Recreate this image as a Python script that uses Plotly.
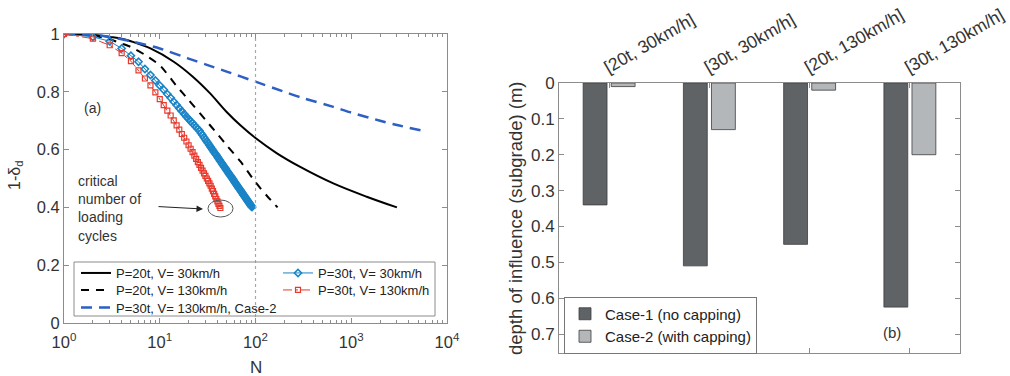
import plotly.graph_objects as go

W, H = 1010, 376
FONT = "Arial, Liberation Sans, sans-serif"

# ---------------- data: panel (a) ----------------
n_p20_v30 = [1, 2, 3, 4, 5, 8, 14, 22, 33, 50, 70, 100, 166, 290, 650, 1450, 3000]
d_p20_v30 = [1.0, 0.997, 0.99, 0.984, 0.975, 0.95, 0.904, 0.853, 0.797, 0.73, 0.683, 0.640, 0.588, 0.541, 0.483, 0.437, 0.40]

n_p20_v130 = [1, 2, 3, 4, 5, 7, 10, 15, 20, 30, 40, 50, 70, 100, 130, 170]
d_p20_v130 = [1.0, 0.995, 0.982, 0.967, 0.955, 0.928, 0.892, 0.82, 0.772, 0.703, 0.654, 0.615, 0.558, 0.487, 0.442, 0.40]

n_case2 = [1, 2, 3, 5, 10, 20, 30, 50, 100, 200, 300, 650, 1000, 2000, 3000, 6000]
d_case2 = [1.0, 0.997, 0.99, 0.975, 0.95, 0.915, 0.895, 0.87, 0.835, 0.80, 0.78, 0.748, 0.728, 0.70, 0.685, 0.663]

n_p30_v30 = list(range(1, 93))
d_p30_v30 = [1.000, 0.990, 0.975, 0.950, 0.925, 0.904, 0.879, 0.858, 0.839, 0.822,
             0.807, 0.792, 0.779, 0.766, 0.754, 0.743, 0.733, 0.723, 0.714, 0.706,
             0.698, 0.691, 0.684, 0.677, 0.671, 0.665, 0.657, 0.650, 0.642, 0.635,
             0.628, 0.622, 0.615, 0.609, 0.603, 0.597, 0.591, 0.586, 0.581, 0.575,
             0.570, 0.565, 0.560, 0.555, 0.550, 0.546, 0.541, 0.537, 0.533, 0.528,
             0.524, 0.520, 0.516, 0.512, 0.509, 0.505, 0.501, 0.498, 0.494, 0.490,
             0.487, 0.483, 0.480, 0.477, 0.473, 0.470, 0.467, 0.464, 0.461, 0.458,
             0.455, 0.452, 0.449, 0.446, 0.443, 0.441, 0.438, 0.435, 0.433, 0.430,
             0.427, 0.425, 0.422, 0.420, 0.417, 0.415, 0.413, 0.410, 0.408, 0.405,
             0.403, 0.401]

n_p30_v130 = list(range(1, 44))
d_p30_v130 = [1.000, 0.984, 0.961, 0.934, 0.906, 0.874, 0.846, 0.822, 0.798, 0.775,
              0.754, 0.735, 0.718, 0.701, 0.684, 0.669, 0.654, 0.641, 0.628, 0.615,
              0.603, 0.591, 0.579, 0.568, 0.557, 0.547, 0.537, 0.527, 0.518, 0.509,
              0.500, 0.492, 0.483, 0.475, 0.465, 0.456, 0.447, 0.438, 0.429, 0.421,
              0.412, 0.405, 0.398]

n_ref_line = 100
x_tick_vals = [1, 10, 100, 1000, 10000]
x_tick_text = ["10<sup>0</sup>", "10<sup>1</sup>", "10<sup>2</sup>", "10<sup>3</sup>", "10<sup>4</sup>"]
x_minor_vals = [m * 10 ** e for e in range(4) for m in range(2, 10)]

# ---------------- data: panel (b) ----------------
categories = ["[20t, 30km/h]", "[30t, 30km/h]", "[20t, 130km/h]", "[30t, 130km/h]"]
cat_pos = [1, 2, 3, 4]
case1_depth = [0.34, 0.51, 0.45, 0.625]
case2_depth = [0.01, 0.13, 0.02, 0.20]


def px(x):
    return x / W


def py(y):
    return 1 - y / H


fig = go.Figure()

# panel (a) traces
fig.add_trace(go.Scatter(x=n_p20_v30, y=d_p20_v30, mode="lines", name="P=20t, V= 30km/h",
                         line=dict(color="black", width=2, shape="spline", smoothing=1.0), legend="legend"))
fig.add_trace(go.Scatter(x=n_p20_v130, y=d_p20_v130, mode="lines", name="P=20t, V= 130km/h",
                         line=dict(color="black", width=2, dash="8px,7px", shape="spline", smoothing=0.6),
                         legend="legend2"))
fig.add_trace(go.Scatter(x=n_case2, y=d_case2, mode="lines", name="P=30t, V= 130km/h, Case-2",
                         line=dict(color="#2d5fc4", width=2.5, dash="11px,7px", shape="spline", smoothing=0.6),
                         legend="legend3"))
fig.add_trace(go.Scatter(x=n_p30_v30, y=d_p30_v30, mode="lines+markers", name="P=30t, V= 30km/h",
                         line=dict(color="#1a84c7", width=1),
                         marker=dict(symbol="diamond-open", size=5.5, color="#1a84c7", line=dict(width=1.6)),
                         legend="legend4"))
fig.add_trace(go.Scatter(x=n_p30_v130, y=d_p30_v130, mode="lines+markers", name="P=30t, V= 130km/h",
                         line=dict(color="#e8392c", width=1, dash="dashdot"),
                         marker=dict(symbol="square-open", size=5, color="#e8392c", line=dict(width=1.2)),
                         legend="legend5"))
# reference vertical line at N=100
fig.add_trace(go.Scatter(x=[n_ref_line, n_ref_line], y=[0, 1], mode="lines", showlegend=False,
                         line=dict(color="#a8a8a8", width=1.2, dash="dot"), hoverinfo="skip"))

# panel (b) traces
fig.add_trace(go.Bar(x=cat_pos, y=case1_depth, name="Case-1 (no capping)", xaxis="x2", yaxis="y2",
                     marker=dict(color="#5f6366", line=dict(color="#3c3c3c", width=0.8)), legend="legend6"))
fig.add_trace(go.Bar(x=cat_pos, y=case2_depth, name="Case-2 (with capping)", xaxis="x2", yaxis="y2",
                     marker=dict(color="#b4b7b9", line=dict(color="#3c3c3c", width=0.8)), legend="legend6"))

axis_common = dict(showline=True, linecolor="#8c8c8c", linewidth=1, mirror="ticks", ticks="inside",
                   tickcolor="#8c8c8c", showgrid=False, zeroline=False, automargin=False)
TICK_A = dict(family=FONT, size=16.5, color="#333333")
TICK_B = dict(family=FONT, size=17, color="#333333")
LEG_A = dict(family=FONT, size=13, color="#222")


def one_legend(x, y):
    return dict(x=px(x), y=py(y), xanchor="left", yanchor="middle", bgcolor="rgba(0,0,0,0)",
                borderwidth=0, font=LEG_A, tracegroupgap=0, itemwidth=30)


fig.update_layout(
    width=W, height=H, margin=dict(l=0, r=0, t=0, b=0),
    paper_bgcolor="white", plot_bgcolor="white",
    font=dict(family=FONT, color="#222222"),
    barmode="group", bargap=0.44, bargroupgap=0.15,
    xaxis=dict(type="log", range=[0, 4], domain=[px(64), px(447)], anchor="y",
               tickvals=x_tick_vals, ticktext=x_tick_text, ticklen=5, tickfont=TICK_A,
               ticklabelstandoff=4,
               minor=dict(tickvals=x_minor_vals, ticks="inside", ticklen=3, tickcolor="#8c8c8c"),
               **axis_common),
    yaxis=dict(range=[0, 1], domain=[py(323), py(34)], anchor="x", dtick=0.2, ticklen=5,
               tickfont=TICK_A, **axis_common),
    xaxis2=dict(range=[0.5, 4.5], domain=[px(559), px(960)], anchor="y2", side="top",
                tickvals=cat_pos, ticktext=categories, tickangle=-30, ticklen=5,
                ticklabeloverflow="allow", ticklabelshift=-5,
                tickfont=dict(family=FONT, size=17.5, color="#333333"), **axis_common),
    yaxis2=dict(range=[0.753, 0], domain=[py(353), py(83)], anchor="x2", dtick=0.1, ticklen=5,
                tickfont=TICK_B, **axis_common),
    legend=one_legend(76, 273),
    legend2=one_legend(76, 290),
    legend3=one_legend(76, 307.5),
    legend4=one_legend(278, 273),
    legend5=one_legend(278, 290),
    legend6=dict(x=px(564), y=py(325), xanchor="left", yanchor="middle", bgcolor="white",
                 bordercolor="#777777", borderwidth=1, font=dict(family=FONT, size=15, color="#222"),
                 tracegroupgap=0),
    shapes=[
        dict(type="rect", xref="paper", yref="paper", x0=px(74), x1=px(435), y0=py(316), y1=py(262),
             line=dict(color="#8c8c8c", width=1), layer="above"),
        dict(type="circle", xref="paper", yref="paper", x0=px(208), x1=px(233), y0=py(217), y1=py(200),
             line=dict(color="#555555", width=1)),
    ],
    annotations=[
        dict(text="1-δ<sub>d</sub>", xref="paper", yref="paper", x=px(15), y=py(176), textangle=-90,
             xanchor="center", yanchor="middle", showarrow=False, font=dict(family=FONT, size=16, color="#333")),
        dict(text="N", xref="paper", yref="paper", x=px(256), y=py(367), xanchor="center", yanchor="middle",
             showarrow=False, font=dict(family=FONT, size=17, color="#333")),
        dict(text="(a)", xref="paper", yref="paper", x=px(92), y=py(108), xanchor="center", yanchor="middle",
             showarrow=False, font=dict(family=FONT, size=14, color="#333")),
        dict(text="critical<br>number of<br>loading<br>cycles", xref="paper", yref="paper",
             x=px(76), y=py(208), xanchor="left", yanchor="middle", align="left", showarrow=False,
             font=dict(family=FONT, size=14, color="#333")),
        dict(text="", xref="paper", yref="paper", x=px(203), y=py(209), ax=-46, ay=-2.5,
             axref="pixel", ayref="pixel", showarrow=True, arrowhead=2, arrowsize=1.3, arrowwidth=1,
             arrowcolor="#222"),
        dict(text="depth of influence (subgrade) (m)", xref="paper", yref="paper", x=px(515), y=py(218),
             textangle=-90, xanchor="center", yanchor="middle", showarrow=False,
             font=dict(family=FONT, size=18.5, color="#333")),
        dict(text="(b)", xref="paper", yref="paper", x=px(892), y=py(332), xanchor="center", yanchor="middle",
             showarrow=False, font=dict(family=FONT, size=15, color="#333")),
    ],
)

fig.write_html("out.html", config={"displayModeBar": False},
               post_script="document.body.style.margin='0';document.body.style.overflow='hidden';")
